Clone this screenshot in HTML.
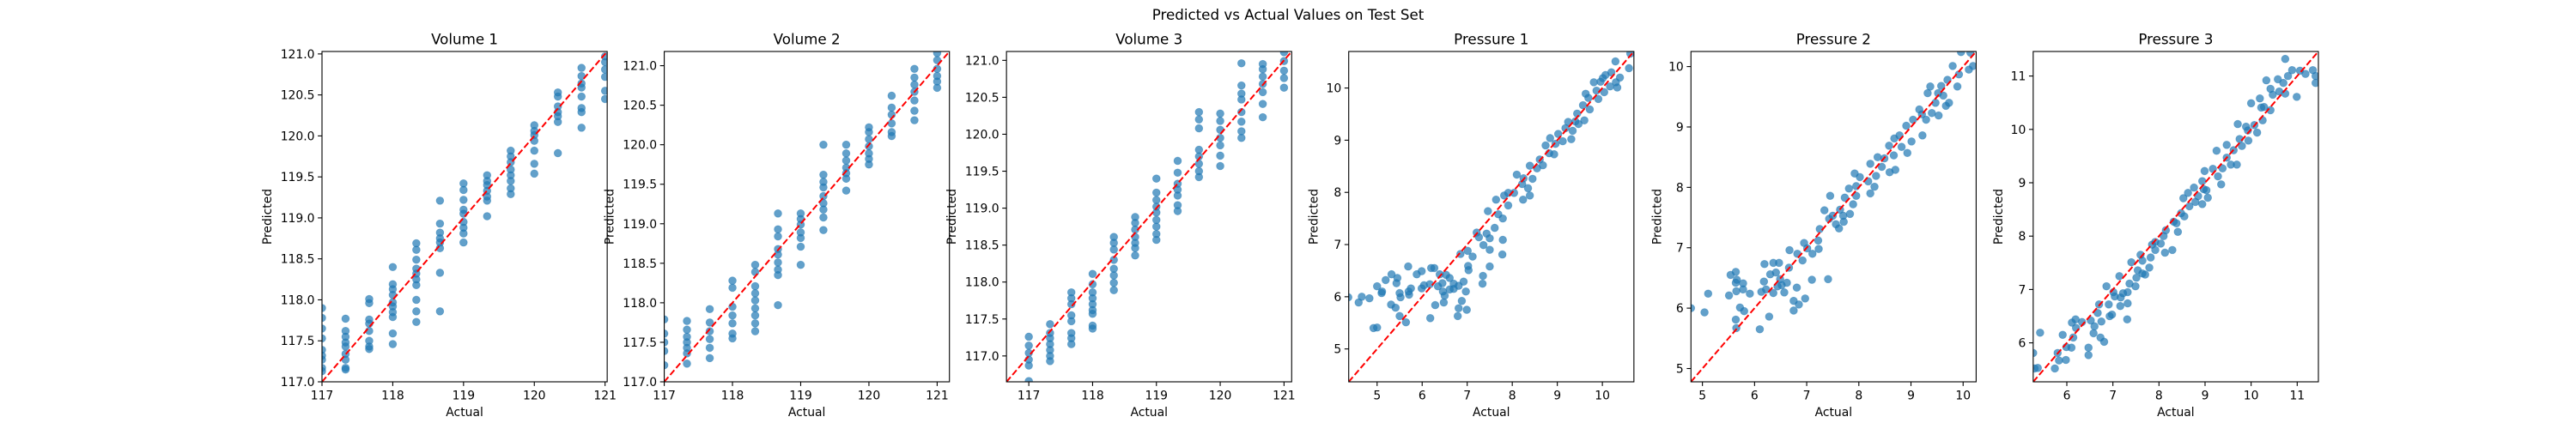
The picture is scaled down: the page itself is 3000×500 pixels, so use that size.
<!DOCTYPE html>
<html><head><meta charset="utf-8"><style>
html,body{margin:0;padding:0;background:#fff;}
svg{display:block;font-family:"DejaVu Sans","Liberation Sans",sans-serif;}
</style></head><body>
<svg id="fig" width="3000" height="500" viewBox="0 0 3000 500" xmlns="http://www.w3.org/2000/svg">
<rect x="0" y="0" width="3000" height="500" fill="#fff"/>
<text x="1500" y="23" font-size="16.7" text-anchor="middle" fill="#000">Predicted vs Actual Values on Test Set</text>
</svg>
<script>
// ---- data ----
const volLevels = [117,117.333,117.667,118,118.333,118.667,119,119.333,119.667,120,120.333,120.667,121];
const v1Pred = [
 [117.90,117.78,117.65,117.53,117.39,117.32,117.27,117.17,117.13],
 [117.77,117.62,117.55,117.48,117.43,117.34,117.27,117.17,117.15],
 [118.01,117.96,117.76,117.71,117.62,117.50,117.43,117.40],
 [118.40,118.19,118.13,118.06,117.97,117.92,117.85,117.79,117.59,117.46],
 [118.69,118.61,118.49,118.38,118.32,118.25,118.18,118.00,117.86,117.73],
 [119.21,118.93,118.82,118.75,118.70,118.63,118.33,117.86],
 [119.42,119.34,119.22,119.10,119.05,118.95,118.88,118.81,118.70],
 [119.52,119.45,119.40,119.33,119.26,119.21,119.02],
 [119.82,119.75,119.68,119.59,119.52,119.45,119.36,119.29],
 [120.13,120.06,120.01,119.94,119.82,119.66,119.54],
 [120.53,120.48,120.36,120.29,120.24,120.17,119.79],
 [120.83,120.73,120.64,120.59,120.48,120.34,120.29,120.10],
 [120.97,120.90,120.81,120.72,120.55,120.45]
];
const v2Pred = [
 [117.79,117.61,117.50,117.39,117.21],
 [117.77,117.66,117.57,117.50,117.43,117.36,117.23],
 [117.92,117.75,117.64,117.54,117.43,117.30],
 [118.28,118.19,117.95,117.84,117.74,117.61,117.55],
 [118.48,118.39,118.21,118.12,118.03,117.93,117.84,117.74,117.64],
 [119.13,118.93,118.84,118.68,118.61,118.51,118.42,118.35,117.97],
 [119.13,119.06,118.99,118.89,118.82,118.71,118.48],
 [120.00,119.62,119.53,119.46,119.35,119.26,119.18,119.08,118.92],
 [120.00,119.89,119.80,119.71,119.64,119.57,119.42],
 [120.22,120.16,120.07,119.98,119.89,119.82,119.75],
 [120.62,120.47,120.38,120.27,120.16,120.11],
 [120.96,120.85,120.76,120.67,120.56,120.43,120.31],
 [121.16,121.07,120.96,120.87,120.80,120.72]
];
const v3Pred = [
 [117.26,117.14,117.04,116.95,116.87,116.66],
 [117.43,117.31,117.24,117.16,117.08,117.00,116.93],
 [117.86,117.78,117.70,117.55,117.47,117.31,117.24,117.16],
 [118.11,117.97,117.86,117.78,117.70,117.62,117.57,117.41,117.37],
 [118.61,118.53,118.44,118.30,118.18,118.09,117.99,117.89],
 [118.88,118.80,118.71,118.61,118.53,118.46,118.36],
 [119.40,119.21,119.11,119.02,118.94,118.84,118.75,118.65,118.57],
 [119.64,119.48,119.33,119.25,119.17,119.04,118.96],
 [120.30,120.20,120.08,119.79,119.70,119.60,119.50,119.42],
 [120.28,120.18,120.06,119.95,119.85,119.71,119.57],
 [120.96,120.66,120.55,120.47,120.30,120.17,120.04,119.95],
 [120.95,120.88,120.78,120.68,120.57,120.41,120.23],
 [121.11,120.99,120.86,120.76,120.63]
];
const p1Actual = [4.36,4.59,4.66,4.83,4.92,5.00,5.00,5.10,5.11,5.19,5.31,5.32,5.41,5.45,5.43,5.50,5.50,5.52,5.64,5.69,5.70,5.71,5.75,5.88,5.99,5.99,6.04,6.17,6.18,6.20,6.27,6.29,6.39,6.35,6.45,6.46,6.48,6.50,6.53,6.61,6.61,6.70,6.70,6.79,6.81,6.81,6.88,6.92,6.97,6.99,7.02,7.03,6.85,7.01,7.12,7.21,7.26,7.34,7.35,7.36,7.43,7.50,7.50,7.50,7.61,7.78,7.79,7.46,7.64,7.69,7.79,7.82,7.91,7.91,8.04,8.10,8.22,8.24,8.25,8.35,8.39,8.39,8.45,8.55,8.61,8.68,8.74,8.82,8.84,8.93,8.96,9.02,9.12,9.18,9.24,9.31,9.34,9.40,9.44,9.47,9.57,9.60,9.63,9.69,9.72,9.81,9.87,9.91,9.96,10.01,10.04,10.07,10.17,10.20,10.30,10.33,10.39,10.29,10.59,10.62];
const p1Pred = [5.99,5.89,6.00,5.97,5.40,5.41,6.20,6.07,6.10,6.32,5.85,6.43,5.79,6.36,6.26,5.63,6.07,5.99,5.51,6.58,6.10,6.04,6.16,6.43,6.49,6.16,6.22,6.24,5.59,6.55,6.55,5.84,6.43,6.20,6.26,6.10,5.89,6.02,6.42,6.36,6.14,6.15,6.25,5.63,5.78,6.21,5.92,6.29,6.10,5.75,6.59,6.51,6.82,6.88,6.77,7.23,7.14,6.25,6.40,6.99,7.21,6.90,7.12,6.58,7.32,6.81,7.09,7.64,7.86,7.58,7.50,7.94,7.75,7.99,7.99,8.34,8.16,7.86,8.27,8.08,7.94,8.51,8.26,8.46,8.63,8.52,8.90,8.75,9.04,8.73,8.93,9.12,8.98,9.23,9.35,9.02,9.18,9.36,9.51,9.31,9.67,9.38,9.89,9.81,9.59,10.11,9.95,9.79,10.12,10.19,9.92,10.25,10.03,10.30,10.11,10.01,10.20,10.51,10.38,10.66];
const p2Actual = [4.78,5.04,5.11,5.51,5.54,5.64,5.66,5.64,5.65,5.64,5.65,5.72,5.78,5.78,5.80,5.91,6.10,6.13,6.18,6.19,6.22,6.28,6.30,6.36,6.36,6.41,6.44,6.47,6.49,6.52,6.57,6.62,6.66,6.67,6.75,6.75,6.81,6.82,6.85,6.92,6.95,6.97,7.01,7.11,7.10,7.22,7.23,7.25,7.34,7.41,7.43,7.45,7.50,7.56,7.62,7.64,7.70,7.71,7.73,7.81,7.83,7.89,7.95,7.95,7.92,8.02,8.18,8.22,8.22,8.30,8.33,8.36,8.44,8.49,8.58,8.59,8.67,8.70,8.68,8.78,8.82,8.93,8.91,9.01,9.04,9.16,9.21,9.22,9.29,9.32,9.37,9.40,9.47,9.53,9.52,9.58,9.62,9.67,9.70,9.73,9.80,9.89,9.92,9.96,10.11,10.14,10.19];
const p2Pred = [6.00,5.93,6.24,6.21,6.55,6.60,6.47,6.42,6.28,5.81,5.67,6.01,6.41,6.31,5.95,6.24,5.65,6.27,6.44,6.73,6.31,5.86,6.56,6.75,6.25,6.59,6.36,6.75,6.48,6.38,6.26,6.42,6.67,6.96,6.12,5.96,6.34,6.90,6.06,6.79,7.08,6.16,6.99,6.90,6.47,7.12,6.98,7.31,7.62,6.48,7.48,7.86,7.53,7.39,7.32,7.63,7.53,7.43,7.83,7.98,7.56,7.72,7.86,8.02,8.23,8.17,8.10,7.90,8.39,8.01,8.19,8.50,8.34,8.48,8.69,8.25,8.53,8.29,8.81,8.86,8.67,8.57,9.02,8.76,9.12,9.29,9.21,8.86,9.12,9.56,9.67,9.23,9.40,9.19,9.56,9.68,9.52,9.35,9.78,9.40,10.01,9.67,9.87,10.24,9.95,10.23,10.01];
const p3Actual = [5.27,5.30,5.37,5.42,5.74,5.80,5.83,5.91,5.98,5.99,6.10,6.14,6.11,6.19,6.20,6.33,6.47,6.47,6.52,6.58,6.60,6.67,6.70,6.73,6.75,6.81,6.86,6.91,6.93,6.98,7.01,7.04,7.17,7.16,7.14,7.22,7.31,7.32,7.36,7.32,7.40,7.51,7.49,7.54,7.60,7.64,7.64,7.70,7.79,7.82,7.85,7.92,7.92,8.04,8.10,8.13,8.15,8.29,8.32,8.38,8.41,8.48,8.53,8.55,8.63,8.66,8.76,8.79,8.85,8.94,8.97,8.99,8.94,9.03,9.06,9.17,9.25,9.28,9.35,9.38,9.47,9.47,9.56,9.62,9.69,9.71,9.75,9.80,9.89,9.93,9.94,10.00,10.07,10.13,10.19,10.22,10.25,10.28,10.33,10.42,10.42,10.47,10.58,10.61,10.70,10.74,10.74,10.80,10.89,10.99,11.06,11.18,11.34,11.40,11.40];
const p3Pred = [5.81,5.52,5.53,6.19,5.52,5.81,5.67,6.15,5.68,5.92,5.91,6.10,6.38,6.44,6.28,6.39,5.91,5.77,6.42,6.18,6.31,6.56,6.72,6.10,6.40,6.02,7.06,6.72,6.50,6.53,6.95,6.87,6.85,6.69,7.25,6.93,6.44,6.74,7.11,6.95,7.51,7.22,7.06,7.36,7.65,7.54,7.30,7.28,7.41,7.60,7.84,7.89,7.74,7.86,8.00,7.69,8.11,7.74,8.27,8.24,8.08,8.43,8.71,8.37,8.81,8.56,8.91,8.64,8.75,8.60,8.88,9.22,9.03,8.86,8.72,9.26,9.60,9.12,8.97,9.27,9.71,9.47,9.34,9.61,9.34,10.10,9.82,9.69,10.05,9.98,9.79,10.49,10.08,9.94,10.58,10.41,10.17,10.42,10.92,10.76,10.36,10.65,10.94,10.71,10.87,10.67,11.32,11.00,11.11,10.61,11.10,11.04,11.11,11.00,10.87];
const titles = ["Volume 1","Volume 2","Volume 3","Pressure 1","Pressure 2","Pressure 3"];
const volTicks = [117,118,119,120,121];
const volYTicks = [117.0,117.5,118.0,118.5,119.0,119.5,120.0,120.5,121.0];
const pTicks12 = [5,6,7,8,9,10];
const pTicks3 = [6,7,8,9,10,11];
const limits = [[117,121.03],[117,121.18],[116.65,121.12],[4.37,10.70],[4.78,10.25],[5.27,11.46]];

// ---- drawing ----
const NS = "http://www.w3.org/2000/svg";
const svg = document.getElementById("fig");
function mk(tag, attrs, parent){
  const e = document.createElementNS(NS, tag);
  for (const k in attrs) e.setAttribute(k, attrs[k]);
  (parent||svg).appendChild(e);
  return e;
}
function flatten(levels, groups){
  const xs=[], ys=[];
  groups.forEach((g,i)=>g.forEach(v=>{xs.push(levels[i]); ys.push(v);}));
  return [xs,ys];
}
const v1 = flatten(volLevels, v1Pred), v2 = flatten(volLevels, v2Pred), v3 = flatten(volLevels, v3Pred);
const panels = [
  {xs:v1[0],ys:v1[1],xt:volTicks,yt:volYTicks,fy:1,lab:64},
  {xs:v2[0],ys:v2[1],xt:volTicks,yt:volYTicks,fy:1,lab:64},
  {xs:v3[0],ys:v3[1],xt:volTicks,yt:volYTicks,fy:1,lab:64},
  {xs:p1Actual,ys:p1Pred,xt:pTicks12,yt:pTicks12,fy:0,lab:41},
  {xs:p2Actual,ys:p2Pred,xt:pTicks12,yt:pTicks12,fy:0,lab:40},
  {xs:p3Actual,ys:p3Pred,xt:pTicks3,yt:pTicks3,fy:0,lab:41}
];
const AW = 332.14, GAP = 66.43, TOP = 60, BOT = 445;
panels.forEach((p, i) => {
  const L = 375 + i*(AW+GAP), R = L + AW;
  const lo = limits[i][0], hi = limits[i][1];
  const sx = v => L + (v-lo)/(hi-lo)*AW;
  const sy = v => BOT - (v-lo)/(hi-lo)*(BOT-TOP);
  const g = mk("g", {});
  
  
  const cp = mk("clipPath", {id:"clip"+i}, g);
  mk("rect", {x:L, y:TOP, width:AW, height:BOT-TOP}, cp);
  const pts = mk("g", {"clip-path":"url(#clip"+i+")"}, g);
  
  
  p.xs.forEach((x, k) => {
    const c = mk("circle", {cx:sx(x).toFixed(2), cy:sy(p.ys[k]).toFixed(2), r:4.4, fill:"#1f77b4", "fill-opacity":0.7, stroke:"#1f77b4", "stroke-opacity":0.45, "stroke-width":0.8}, pts);
    
    
  });
  const ln = mk("line", {x1:sx(lo), y1:sy(lo), x2:sx(hi), y2:sy(hi), stroke:"#ff0000", "stroke-width":2, "stroke-dasharray":"7.4,3.2"}, pts);
  
  
  const fr = mk("rect", {x:L, y:TOP, width:AW, height:BOT-TOP, fill:"none", stroke:"#000", "stroke-width":1.1}, g);
  
  
  p.xt.forEach(t => {
    const x = sx(t);
    mk("line", {x1:x, y1:BOT, x2:x, y2:BOT+4.9, stroke:"#000", "stroke-width":1.1}, g);
    const tx = mk("text", {x:x, y:BOT+20.5, "font-size":13.9, "text-anchor":"middle"}, g);
    tx.textContent = String(t);
    
    
  });
  p.yt.forEach(t => {
    const y = sy(t);
    mk("line", {x1:L-4.9, y1:y, x2:L, y2:y, stroke:"#000", "stroke-width":1.1}, g);
    const ty = mk("text", {x:L-8.5, y:y+5, "font-size":13.9, "text-anchor":"end"}, g);
    ty.textContent = p.fy ? t.toFixed(1) : String(t);
    
    
  });
  const ti = mk("text", {x:L+AW/2, y:51.5, "font-size":16.7, "text-anchor":"middle"}, g);
  ti.textContent = titles[i];
  
  
  const xl = mk("text", {x:L+AW/2, y:485, "font-size":13.9, "text-anchor":"middle"}, g);
  xl.textContent = "Actual";
  
  
  const yx = L - p.lab + 5, yy = (TOP+BOT)/2;
  const yl = mk("text", {x:yx, y:yy, "font-size":13.9, "text-anchor":"middle", transform:"rotate(-90 "+yx+" "+yy+")"}, g);
  yl.textContent = "Predicted";
  
  
});
</script>
</body></html>
